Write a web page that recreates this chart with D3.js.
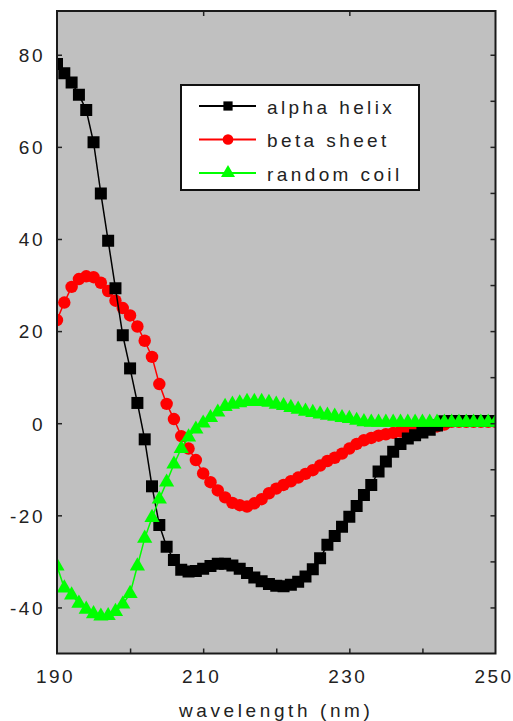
<!DOCTYPE html>
<html>
<head>
<meta charset="utf-8">
<script src="https://cdn.jsdelivr.net/npm/d3@7"></script>
<style>
  body { margin: 0; background: #fff; }
  svg { display: block; }
</style>
</head>
<body>
<div id="chart"></div>
<script>
// CD spectra of the three reference secondary structures
const wavelengths = [
  190, 191, 192, 193, 194, 195, 196, 197, 198, 199,
  200, 201, 202, 203, 204, 205, 206, 207, 208, 209,
  210, 211, 212, 213, 214, 215, 216, 217, 218, 219,
  220, 221, 222, 223, 224, 225, 226, 227, 228, 229,
  230, 231, 232, 233, 234, 235, 236, 237, 238, 239,
  240, 241, 242, 243, 244, 245, 246, 247, 248, 249, 250
];
const alphaHelix = [
  78, 76, 74, 71.3, 68, 61, 49.9, 39.6, 29.3, 19.1,
  11.9, 4.4, -3.5, -13.7, -22.1, -26.8, -29.7, -31.8, -32.2, -32.1,
  -31.6, -31, -30.5, -30.5, -30.9, -31.6, -32.5, -33.5, -34.3, -34.9,
  -35.3, -35.4, -35.1, -34.4, -33.3, -31.7, -29.3, -26.4, -24.5, -22.5,
  -20.3, -18, -15.6, -13.4, -10.5, -8.3, -6.2, -4.5, -3.3, -2.6,
  -2, -1.4, -0.5, 0.4, 0.5, 0.5, 0.5, 0.5, 0.5, 0.5, 0.5
];
const betaSheet = [
  22.4, 26.2, 29.6, 31.3, 31.9, 31.7, 30.5, 28.7, 26.6, 25,
  23.4, 21, 17.9, 14.4, 8.5, 4.2, 0.9, -2.8, -5.5, -8,
  -10.9, -12.8, -14.6, -16.1, -17.3, -17.8, -18.1, -17.4, -16.5, -15.2,
  -14.2, -13.4, -12.6, -11.8, -11, -10.2, -9.2, -8.2, -7.5, -6.6,
  -5.5, -4.5, -3.7, -3.2, -2.7, -2.4, -2.1, -1.8, -1.7, -1.6,
  -1.5, -1.1, -0.7, -0.3, 0.3, 0.3, 0.3, 0.3, 0.3, 0.3, 0.3
];
const randomCoil = [
  -31, -35.8, -37.3, -39.1, -40.4, -41.4, -41.9, -41.8, -40.9, -39.3,
  -37, -31, -25, -20.5, -16.5, -12.8, -8.9, -5.5, -3, -1.3,
  0, 1.2, 2.4, 3.6, 4.1, 4.4, 4.7, 4.7, 4.7, 4.5,
  4.1, 3.8, 3.4, 3, 2.6, 2.3, 2, 1.7, 1.5, 1.2,
  1, 0.6, 0.3, 0.2, 0.2, 0.2, 0.2, 0.2, 0.2, 0.2,
  0.2, 0.2, 0.2, 0.2, 0.2, 0.2, 0.2, 0.2, 0.2, 0.2, 0.2
];
const seriesNames = ["alpha helix", "beta sheet", "random coil"];
const xLabelTicks = [190, 210, 230, 250];
const xMinorTicks = [200, 210, 220, 230, 240];
const xTopTicks = [210, 230];
const yLabelTicks = [-40, -20, 0, 20, 40, 60, 80];
const yRightTicks = [-40, -30, -20, -10, 0, 10, 20, 30, 40, 50, 60, 70, 80];

const W = 513, H = 721;
const FONT = "'Liberation Sans', Arial, sans-serif";
const TEXT = "#222";

const x = d3.scaleLinear().domain([190, 250]).range([57, 495.5]);
const y = d3.scaleLinear().domain([-50, 89.5]).range([653.5, 11]);

const svg = d3.select("#chart").append("svg").attr("width", W).attr("height", H);
svg.append("rect").attr("width", W).attr("height", H).attr("fill", "#fff");

const x0 = x.range()[0], x1 = x.range()[1], yTop = y.range()[1], yBot = y.range()[0];

svg.append("rect")
  .attr("x", x0).attr("y", yTop).attr("width", x1 - x0).attr("height", yBot - yTop)
  .attr("fill", "#c0c0c0");

svg.append("clipPath").attr("id", "plotclip").append("rect")
  .attr("x", x0).attr("y", yTop).attr("width", x1 - x0).attr("height", yBot - yTop);

// draw order: red under black, green on top
const series = [
  { name: seriesNames[1], values: betaSheet, color: "#ff0000", symbol: d3.symbolCircle, size: 122 },
  { name: seriesNames[0], values: alphaHelix, color: "#000000", symbol: d3.symbolSquare, size: 144 },
  { name: seriesNames[2], values: randomCoil, color: "#00ff00", symbol: d3.symbolTriangle, size: 100 }
];

const plot = svg.append("g").attr("clip-path", "url(#plotclip)");
const line = d3.line().x(d => x(d[0])).y(d => y(d[1]));

series.forEach(s => {
  const pts = wavelengths.map((w, i) => [w, s.values[i]]);
  const g = plot.append("g");
  g.append("path").datum(pts).attr("d", line)
    .attr("fill", "none").attr("stroke", s.color).attr("stroke-width", 1.5);
  g.selectAll("path.pt").data(pts).join("path").attr("class", "pt")
    .attr("transform", d => "translate(" + x(d[0]) + "," + y(d[1]) + ")")
    .attr("d", d3.symbol().type(s.symbol).size(s.size))
    .attr("fill", s.color);
});

// axes, ticks pointing inward
function styleAxis(g) {
  g.select(".domain").remove();
  g.selectAll(".tick line").attr("stroke", "#222").attr("stroke-width", 1.5);
  g.selectAll("text").attr("fill", TEXT).style("font-family", FONT)
    .style("font-size", "19px").style("letter-spacing", "2.5px");
}

svg.append("g").attr("transform", "translate(" + x0 + ",0)")
  .call(d3.axisLeft(y).tickValues(yLabelTicks).tickSize(-5).tickPadding(12).tickFormat(d => String(d)))
  .call(styleAxis)
  .call(g => g.selectAll("text").attr("dy", "0.36em"));

svg.append("g").attr("transform", "translate(" + x1 + ",0)")
  .call(d3.axisRight(y).tickValues(yRightTicks).tickSize(-5).tickFormat(""))
  .call(styleAxis);

svg.append("g").attr("transform", "translate(0," + yBot + ")")
  .call(d3.axisBottom(x).tickValues(xMinorTicks).tickSize(-5).tickFormat(""))
  .call(styleAxis);

svg.append("g").attr("transform", "translate(0," + yBot + ")")
  .call(d3.axisBottom(x).tickValues(xLabelTicks).tickSize(0).tickPadding(29).tickFormat(d => String(d)))
  .call(styleAxis)
  .call(g => g.selectAll("text").attr("dy", "0").attr("dx", "-2"));

svg.append("g").attr("transform", "translate(0," + yTop + ")")
  .call(d3.axisTop(x).tickValues(xTopTicks).tickSize(-5).tickFormat(""))
  .call(styleAxis);

svg.append("rect")
  .attr("x", x0).attr("y", yTop).attr("width", x1 - x0).attr("height", yBot - yTop)
  .attr("fill", "none").attr("stroke", "#1a1a1a").attr("stroke-width", 2);

svg.append("text")
  .attr("x", (x0 + x1) / 2).attr("y", 717)
  .attr("text-anchor", "middle")
  .attr("fill", TEXT).style("font-family", FONT).style("font-size", "19px")
  .style("letter-spacing", "3.6px")
  .text("wavelength (nm)");

// legend
const legend = svg.append("g");
legend.append("rect")
  .attr("x", 181).attr("y", 85).attr("width", 238).attr("height", 105)
  .attr("fill", "#fff").attr("stroke", "#111").attr("stroke-width", 2);

const legendRows = [
  { name: seriesNames[0], color: "#000000", symbol: d3.symbolSquare, size: 85 },
  { name: seriesNames[1], color: "#ff0000", symbol: d3.symbolCircle, size: 90 },
  { name: seriesNames[2], color: "#00ff00", symbol: d3.symbolTriangle, size: 85 }
];
const rowY = d3.scalePoint().domain(seriesNames).range([106, 173]);

legendRows.forEach(r => {
  const cy = rowY(r.name);
  legend.append("line").attr("x1", 199).attr("x2", 256).attr("y1", cy).attr("y2", cy)
    .attr("stroke", r.color).attr("stroke-width", 2);
  legend.append("path")
    .attr("transform", "translate(228," + cy + ")")
    .attr("d", d3.symbol().type(r.symbol).size(r.size))
    .attr("fill", r.color);
  legend.append("text").attr("x", 267).attr("y", cy + 7.5)
    .attr("fill", TEXT).style("font-family", FONT).style("font-size", "19px")
    .style("letter-spacing", "3.4px")
    .text(r.name);
});
</script>
</body>
</html>
